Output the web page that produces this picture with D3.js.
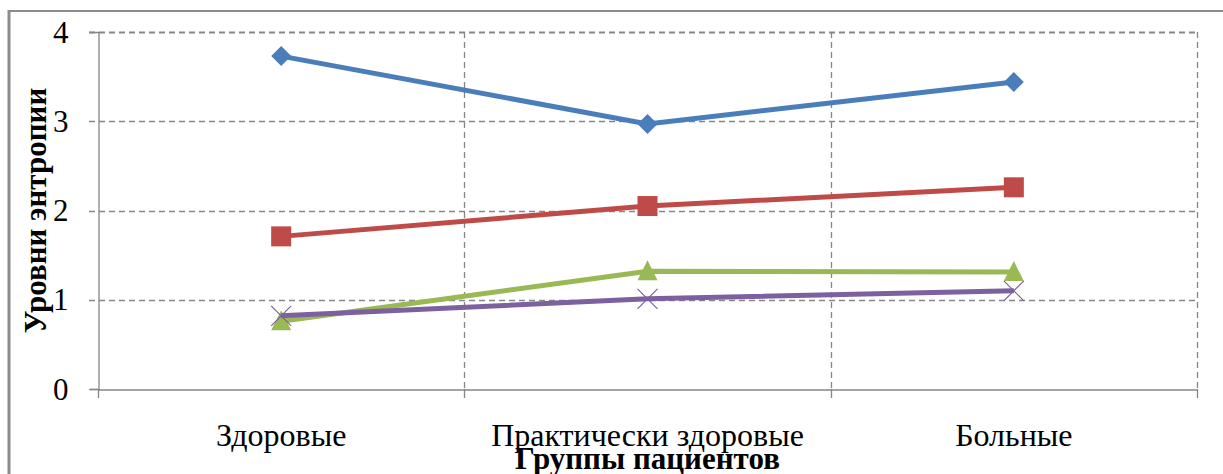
<!DOCTYPE html>
<html>
<head>
<meta charset="utf-8">
<script src="https://cdn.jsdelivr.net/npm/d3@7"></script>
<style>
  body { margin: 0; background: #fff; }
  svg { display: block; }
</style>
</head>
<body>
<div id="chart"></div>
<script>
// groups and series values
var categories = ['Здоровые', 'Практически здоровые', 'Больные'];
var blueValues = [3.73, 2.97, 3.44];
var redValues = [1.71, 2.05, 2.26];
var greenValues = [0.76, 1.32, 1.31];
var purpleValues = [0.82, 1.01, 1.10];
var yTicks = [0, 1, 2, 3, 4];

var series = [
    { name: 'blue', values: blueValues, color: '#4a7ebb', marker: 'diamond' },
    { name: 'red', values: redValues, color: '#be4b48', marker: 'square' },
    { name: 'green', values: greenValues, color: '#98b954', marker: 'triangle' },
    { name: 'purple', values: purpleValues, color: '#7d60a0', marker: 'x' }
];

var serif = '"Liberation Serif", "DejaVu Serif", serif';

var width = 1223, height = 474;
var margin = { left: 98, right: 26, top: 32, bottom: 85 };

var svg = d3.select('#chart').append('svg')
    .attr('width', width)
    .attr('height', height);

// outer frame
svg.append('line').attr('x1', 8).attr('x2', width).attr('y1', 11).attr('y2', 11)
    .attr('stroke', '#8c8c8c').attr('stroke-width', 2);
svg.append('line').attr('x1', 9).attr('x2', 9).attr('y1', 10).attr('y2', height)
    .attr('stroke', '#8c8c8c').attr('stroke-width', 3);

var x = d3.scaleBand()
    .domain(categories)
    .range([margin.left, width - margin.right]);

var y = d3.scaleLinear()
    .domain([0, 4])
    .range([height - margin.bottom, margin.top]);

var grid = svg.append('g');

// horizontal dashed grid
grid.selectAll('line.h')
    .data(yTicks.filter(d => d > 0))
    .enter().append('line')
    .attr('x1', margin.left - 9)
    .attr('x2', width - margin.right)
    .attr('y1', d => Math.round(y(d)) + 0.5)
    .attr('y2', d => Math.round(y(d)) + 0.5)
    .attr('stroke', '#868686')
    .attr('stroke-width', d => d === 4 ? 2 : 1.3)
    .attr('stroke-dasharray', '6,4');

// vertical dashed grid at category boundaries
grid.selectAll('line.v')
    .data(categories)
    .enter().append('line')
    .attr('x1', d => Math.round(x(d) + x.bandwidth()) + 0.5)
    .attr('x2', d => Math.round(x(d) + x.bandwidth()) + 0.5)
    .attr('y1', y(4))
    .attr('y2', y(0))
    .attr('stroke', '#868686')
    .attr('stroke-width', 1.3)
    .attr('stroke-dasharray', '6,4');

// axes (solid)
var yAxis = d3.axisLeft(y).tickValues(yTicks).tickSize(9).tickFormat(d3.format('d'));
var yg = svg.append('g')
    .attr('transform', 'translate(' + (margin.left + 0.5) + ',0)')
    .call(yAxis)
    .attr('font-family', serif);
yg.select('.domain').attr('stroke', '#868686').attr('stroke-width', 1.3);
yg.selectAll('.tick line').attr('stroke', '#868686').attr('stroke-width', 1.3)
    .attr('opacity', d => d === 0 ? 1 : 0);
yg.selectAll('.tick text')
    .attr('x', -30)
    .attr('dy', '0.33em')
    .style('font-family', serif)
    .style('font-size', '31px')
    .attr('fill', '#000');

var bx = d3.axisBottom(x).tickSize(0).tickFormat('');
var xg = svg.append('g')
    .attr('transform', 'translate(0,' + (Math.round(y(0)) + 0.5) + ')')
    .call(bx);
xg.select('.domain').attr('stroke', '#868686').attr('stroke-width', 1.3);

// tick marks below the axis at category boundaries
var boundaries = [margin.left].concat(categories.map(d => x(d) + x.bandwidth()));
svg.selectAll('line.bt')
    .data(boundaries)
    .enter().append('line')
    .attr('x1', d => Math.round(d) + 0.5)
    .attr('x2', d => Math.round(d) + 0.5)
    .attr('y1', y(0))
    .attr('y2', y(0) + 9)
    .attr('stroke', '#868686')
    .attr('stroke-width', 1.3);

// category labels
svg.selectAll('text.cat')
    .data(categories)
    .enter().append('text')
    .attr('x', d => x(d) + x.bandwidth() / 2)
    .attr('y', 446)
    .attr('text-anchor', 'middle')
    .style('font-family', serif)
    .style('font-size', '32px')
    .attr('fill', '#000')
    .text(d => d);

// axis titles
svg.append('text')
    .attr('x', x(categories[1]) + x.bandwidth() / 2)
    .attr('y', 469)
    .attr('text-anchor', 'middle')
    .style('font-family', serif)
    .style('font-size', '31px')
    .style('font-weight', 'bold')
    .text('Группы пациентов');

svg.append('text')
    .attr('transform', 'translate(46,' + ((y(0) + y(4)) / 2) + ') rotate(-90)')
    .attr('text-anchor', 'middle')
    .style('font-family', serif)
    .style('font-size', '31px')
    .style('font-weight', 'bold')
    .text('Уровни энтропии');

// lines
var line = d3.line()
    .x((d, i) => x(categories[i]) + x.bandwidth() / 2)
    .y(d => y(d));

var sg = svg.selectAll('g.series')
    .data(series)
    .enter().append('g')
    .attr('class', 'series');

sg.append('path')
    .attr('d', d => line(d.values))
    .attr('fill', 'none')
    .attr('stroke', d => d.color)
    .attr('stroke-width', 5);

// markers
sg.each(function(s) {
    var g = d3.select(this);
    s.values.forEach(function(v, i) {
        var cx = x(categories[i]) + x.bandwidth() / 2;
        var cy = y(v);
        if (s.marker === 'diamond') {
            g.append('path')
                .attr('d', 'M0,-10L10,0L0,10L-10,0Z')
                .attr('transform', 'translate(' + cx + ',' + cy + ')')
                .attr('fill', s.color);
        } else if (s.marker === 'square') {
            g.append('rect')
                .attr('x', cx - 10).attr('y', cy - 10)
                .attr('width', 20).attr('height', 20)
                .attr('fill', s.color);
        } else if (s.marker === 'triangle') {
            g.append('path')
                .attr('d', 'M0,-11L10,9L-10,9Z')
                .attr('transform', 'translate(' + cx + ',' + cy + ')')
                .attr('fill', s.color);
        } else {
            g.append('path')
                .attr('d', 'M-10,-10L10,10M-10,10L10,-10')
                .attr('transform', 'translate(' + cx + ',' + cy + ')')
                .attr('stroke', s.color)
                .attr('stroke-width', 1.2)
                .attr('fill', 'none');
        }
    });
});
</script>
</body>
</html>
